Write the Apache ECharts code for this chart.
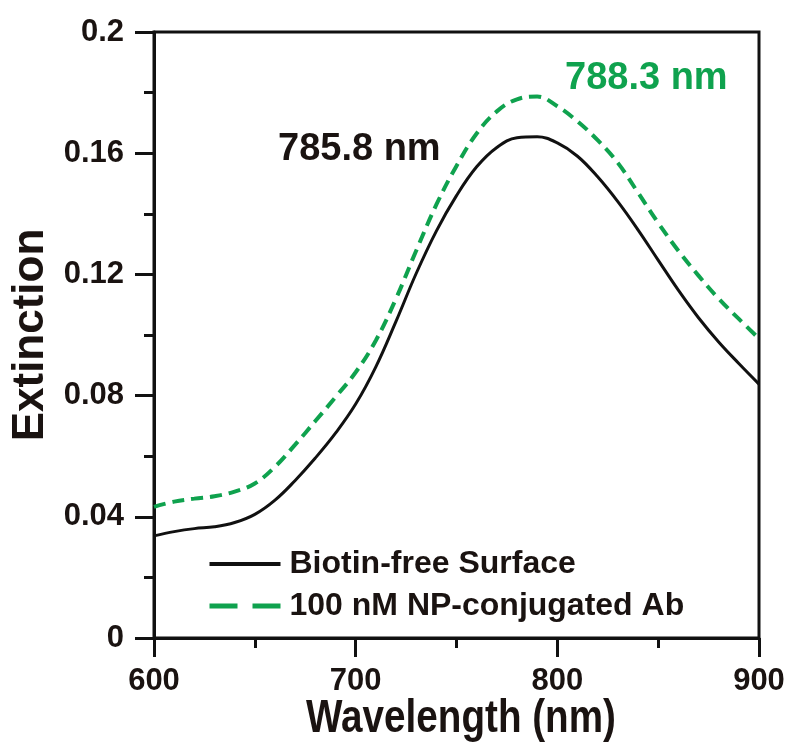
<!DOCTYPE html>
<html>
<head>
<meta charset="utf-8">
<script src="https://cdn.jsdelivr.net/npm/echarts@6/dist/echarts.min.js"></script>
<style>
  html, body { margin: 0; padding: 0; background: #fff; }
  #chart { width: 797px; height: 745px; }
</style>
</head>
<body>
<div id="chart"></div>
<script>
// wavelength (nm)
const wavelengths = [600, 610, 620, 630, 640, 650, 660, 670, 680, 690, 700, 710, 720, 730, 740, 750,
  760, 770, 780, 790, 800, 810, 820, 830, 840, 850, 860, 870, 880, 890, 900]
// extinction, biotin-free surface
const biotinFree = [0.0337, 0.0351, 0.0361, 0.0367, 0.0381, 0.0408, 0.0455, 0.0520, 0.0594, 0.0676, 0.0772,
  0.0895, 0.1045, 0.1203, 0.1343, 0.1460, 0.1555, 0.1619, 0.1651, 0.1654, 0.1634, 0.1590, 0.1522,
  0.1440, 0.1347, 0.1247, 0.1148, 0.1057, 0.0977, 0.0906, 0.0838]
// extinction, 100 nM NP-conjugated Ab
const conjugated = [0.0433, 0.0450, 0.0460, 0.0468, 0.0483, 0.0510, 0.0565, 0.0638, 0.0716, 0.0795, 0.0877,
  0.0982, 0.1120, 0.1278, 0.1430, 0.1558, 0.1665, 0.1738, 0.1778, 0.1787, 0.1755, 0.1705, 0.1643,
  0.1568, 0.1470, 0.1370, 0.1278, 0.1196, 0.1120, 0.1053, 0.0988]
const seriesNames = ['Biotin-free Surface', '100 nM NP-conjugated Ab']
const peakLabels = ['785.8 nm', '788.3 nm']
const axisTitles = ['Wavelength (nm)', 'Extinction']

const green = '#0fa24e'
const ink = '#1a1311'
const font = 'Liberation Sans, Arial, sans-serif'

const zip = (xs, ys) => xs.map((x, i) => [x, ys[i]])

const myChart = echarts.init(document.getElementById('chart'))

const option = {
  backgroundColor: '#fff',
  animation: false,
  grid: {
    left: 154, right: 38, top: 32, bottom: 107,
    outerBoundsMode: 'none',
    containLabel: false,
    show: true, borderColor: '#111', borderWidth: 3
  },
  xAxis: {
    type: 'value',
    min: 600, max: 900, interval: 100,
    axisLine: { lineStyle: { color: '#111', width: 3 } },
    axisTick: { show: true, inside: false, length: 19, lineStyle: { width: 3, color: '#111' } },
    minorTick: { show: true, splitNumber: 2, length: 10, lineStyle: { width: 3, color: '#111' } },
    splitLine: { show: false },
    axisLabel: { margin: 28, fontFamily: font, fontWeight: 'bold', fontSize: 31, color: ink }
  },
  yAxis: {
    type: 'value',
    min: 0, max: 0.2, interval: 0.04,
    name: axisTitles[1],
    nameLocation: 'middle',
    nameGap: 96,
    nameTextStyle: { fontFamily: font, fontWeight: 'bold', fontSize: 44, color: ink },
    axisLine: { show: true, lineStyle: { color: '#111', width: 3 } },
    axisTick: { show: true, inside: false, length: 19, lineStyle: { width: 3, color: '#111' } },
    minorTick: { show: true, splitNumber: 2, length: 10, lineStyle: { width: 3, color: '#111' } },
    splitLine: { show: false },
    axisLabel: {
      margin: 30, fontFamily: font, fontWeight: 'bold', fontSize: 31, color: ink,
      formatter: v => String(+v.toFixed(2))
    }
  },
  legend: {
    orient: 'vertical',
    left: 202, top: 543,
    itemWidth: 71, itemHeight: 20, itemGap: 10,
    itemStyle: { opacity: 0 },
    textStyle: { fontFamily: font, fontWeight: 'bold', fontSize: 32, color: ink, padding: [0, 0, 0, 4] },
    data: [
      { name: seriesNames[0], lineStyle: { width: 4, type: 'solid' } },
      { name: seriesNames[1], lineStyle: { width: 5, type: [28, 15] } }
    ]
  },
  graphic: [
    { type: 'text', left: 278, top: 131,
      style: { text: peakLabels[0], fill: ink, font: 'bold 38px ' + font } },
    { type: 'text', left: 565, top: 60,
      style: { text: peakLabels[1], fill: green, font: 'bold 38px ' + font } },
    // x axis title, drawn condensed like the original
    { type: 'text', x: 461, y: 719, scaleX: 0.84,
      style: { text: axisTitles[0], fill: ink, font: 'bold 46px ' + font, align: 'center', verticalAlign: 'middle' } }
  ],
  series: [
    {
      name: seriesNames[0],
      type: 'line',
      smooth: 0.4,
      symbol: 'none',
      data: zip(wavelengths, biotinFree),
      lineStyle: { color: '#111', width: 3 },
      itemStyle: { color: '#111' }
    },
    {
      name: seriesNames[1],
      type: 'line',
      smooth: 0.4,
      symbol: 'none',
      data: zip(wavelengths, conjugated),
      lineStyle: { color: green, width: 4, type: [12, 7] },
      itemStyle: { color: green }
    }
  ]
}
option && myChart.setOption(option)
</script>
</body>
</html>
